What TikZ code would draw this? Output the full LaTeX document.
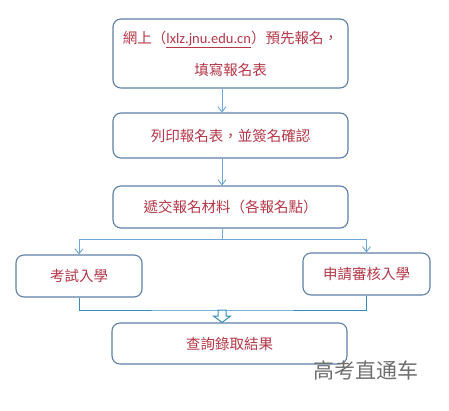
\documentclass[tikz,border=0pt]{standalone}
\usepackage{fontspec}
\newfontfamily\cjk{Noto Sans CJK TC}
\newfontfamily\cjksc{Noto Sans CJK SC}
\newfontfamily\latinurl{Carlito}
\usetikzlibrary{arrows.meta,calc}
\definecolor{txtred}{RGB}{180,55,72}
\definecolor{boxline}{RGB}{95,128,165}
\definecolor{arrline}{RGB}{112,165,215}
\definecolor{mergeline}{RGB}{50,140,185}
\definecolor{wmgray}{RGB}{110,110,110}
\tikzset{
  flowbox/.style={draw=boxline, line width=1.1pt, rounded corners=8pt, fill=white,
    text=txtred, font=\cjk\fontsize{14.5}{32}\selectfont, align=center, inner sep=0pt},
  arr/.style={draw=arrline, line width=0.9pt, -{Straight Barb[length=5pt,width=8pt]}},
  plainline/.style={draw=arrline, line width=0.9pt},
  mline/.style={draw=mergeline, line width=1pt},
  hollow/.style={draw=mergeline, line width=1pt, fill=white, line join=miter},
}
\begin{document}
\begin{tikzpicture}[x=1pt,y=-1pt]
\useasboundingbox[fill=white] (0,0) rectangle (449,410);
\coordinate (ax) at (222,0);
\node[flowbox, minimum width=235pt, minimum height=69pt] (b1) at (230.5,53.5)
  {網上（{\latinurl\underline{lxlz.jnu.edu.cn}}）預先報名，\\填寫報名表};
\node[flowbox, minimum width=235pt, minimum height=45pt] (b2) at (230.5,135.5) {列印報名表，並簽名確認};
\node[flowbox, minimum width=235pt, minimum height=42pt] (b3) at (230.5,207) {遞交報名材料（各報名點）};
\node[flowbox, minimum width=126pt, minimum height=42pt] (left) at (79,276) {考試入學};
\node[flowbox, minimum width=127pt, minimum height=42pt] (right) at (366.5,274) {申請審核入學};
\node[flowbox, minimum width=235pt, minimum height=41pt] (fin) at (229.5,343.5) {查詢錄取結果};
\coordinate (split) at (222,239);
\coordinate (m) at (222,310);
\draw[arr] (b1.south -| ax) -- (b2.north -| ax);
\draw[arr] (b2.south -| ax) -- (b3.north -| ax);
\draw[plainline] (b3.south -| ax) -- (split);
\draw[arr] (split) -| (left.north);
\draw[arr] (split) -| (right.north);
\draw[mline] (left.south) |- (m) -| (right.south);
\draw[hollow] ($(m)+(-4,0)$) -- ++(0,6) -- ++(-4.5,0) -- (fin.north -| m) -- ($(m)+(8.5,6)$) -- ++(-4.5,0) -- ++(0,-6) -- cycle;
\node[font=\cjksc\fontsize{21}{21}\selectfont, text=wmgray, anchor=center, inner sep=0pt] (wm) at (366,370) {高考直通车};
\end{tikzpicture}
\end{document}
